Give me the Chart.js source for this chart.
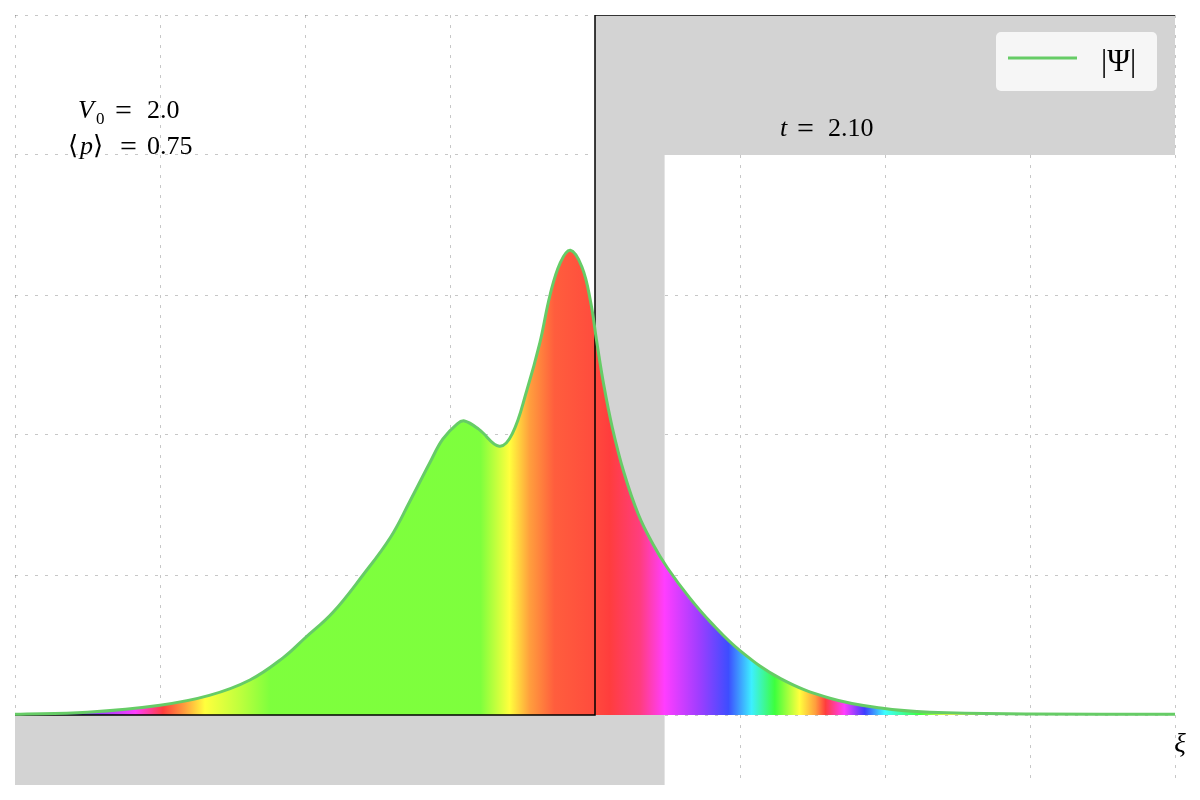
<!DOCTYPE html>
<html>
<head>
<meta charset="utf-8">
<script src="https://cdn.jsdelivr.net/npm/chart.js@4"></script>
<style>
  html, body { margin: 0; padding: 0; background: #fff; }
  #wrap { width: 1200px; height: 800px; }
</style>
</head>
<body>
<div id="wrap"><canvas id="psiChart" width="1200" height="800"></canvas></div>
<script>
// |Psi|
var psiX = [-4.0, -3.5, -3.0, -2.66, -2.38, -2.15, -2.0, -1.81, -1.6, -1.41, -1.28, -1.14, -1.05, -0.95, -0.90,
            -0.80, -0.66, -0.57, -0.47, -0.38, -0.31, -0.24, -0.17, -0.09, -0.03, 0.01,
            0.06, 0.12, 0.20, 0.30, 0.40, 0.50, 0.65, 0.80, 1.0, 1.28, 1.62, 1.97, 2.31, 3.0, 4.0];
var psiY = [0.005, 0.02, 0.07, 0.14, 0.25, 0.41, 0.55, 0.73, 1.0, 1.27, 1.52, 1.80, 1.97, 2.08, 2.10,
            2.04, 1.92, 2.01, 2.32, 2.66, 3.0, 3.23, 3.32, 3.2, 2.95, 2.68,
            2.36, 2.05, 1.73, 1.43, 1.22, 1.05, 0.84, 0.66, 0.46, 0.26, 0.12, 0.05, 0.02, 0.008, 0.005];

// phase (hue, unwrapped) along xi
var phaseX = [-4.0, -3.78, -3.41, -3.17, -2.98, -2.83, -2.69, -2.45, -2.24, -0.79, -0.69, -0.59, -0.45, -0.28, -0.03,
              0.10, 0.31, 0.48, 0.72, 0.92, 1.08, 1.24, 1.41, 1.52, 1.59, 1.72, 1.86, 2.0, 2.24, 2.45, 4.0];
var phaseHue = [220, 240, 270, 300, 360, 390, 420, 440, 460, 460, 440, 420, 390, 370, 365,
                360, 340, 300, 270, 235, 185, 120, 60, 30, 0, -60, -120, -180, -240, -300, -300];

// potential step and shaded barrier
var potentialX = [-4, 0, 0, 4];
var potentialY = [0, 0, 5, 5];
var barrierX = [-4, 0.48, 0.48, 4, 4, 0, 0, -4];
var barrierY = [-0.5, -0.5, 4, 4, 5, 5, 0, 0];

var xTicks = [-4, -3, -2, -1, 0, 1, 2, 3, 4];
var yTicks = [0, 1, 2, 3, 4, 5];

function pts(xs, ys) {
  return xs.map(function (x, i) { return {x: x, y: ys[i]}; });
}

function hueColor(h) {
  h = ((h % 360) + 360) % 360;
  return 'hsl(' + h + ',100%,62%)';
}

function phaseFill(context) {
  var chart = context.chart;
  if (!chart.chartArea) return 'rgba(0,0,0,0)';
  var xs = chart.scales.x;
  var a = xs.getPixelForValue(-4), b = xs.getPixelForValue(4);
  var g = chart.ctx.createLinearGradient(a, 0, b, 0);
  phaseX.forEach(function (x, i) {
    g.addColorStop((x + 4) / 8, hueColor(phaseHue[i]));
  });
  return g;
}

var serif = '"Liberation Serif", "DejaVu Serif", serif';

var textPlugin = {
  id: 'texts',
  afterDraw: function (chart) {
    var c = chart.ctx;
    c.save();
    c.fillStyle = '#000';
    c.textBaseline = 'alphabetic';
    c.textAlign = 'left';

    // V0 line
    c.font = 'italic 26px ' + serif;
    c.fillText('V', 78, 118);
    c.font = '17px ' + serif;
    c.fillText('0', 96, 124);
    c.font = '30px ' + serif;
    c.fillText('=', 115, 120);
    c.font = '26px ' + serif;
    c.fillText('2.0', 147, 118);

    // <p> line
    c.font = '26px ' + serif;
    c.fillText('\u27E8', 68, 154);
    c.font = 'italic 26px ' + serif;
    c.fillText('p', 80, 154);
    c.font = '26px ' + serif;
    c.fillText('\u27E9', 93, 154);
    c.font = '30px ' + serif;
    c.fillText('=', 120, 156);
    c.font = '26px ' + serif;
    c.fillText('0.75', 147, 154);

    // time
    c.font = 'italic 26px ' + serif;
    c.fillText('t', 780, 136);
    c.font = '30px ' + serif;
    c.fillText('=', 797, 138);
    c.font = '26px ' + serif;
    c.fillText('2.10', 828, 136);

    // axis label
    c.font = 'italic 27px ' + serif;
    c.textAlign = 'center';
    c.fillText('\u03BE', 1180, 752);

    // legend
    var lx = 996, ly = 32, lw = 161, lh = 59;
    c.fillStyle = 'rgba(255,255,255,0.8)';
    c.beginPath();
    c.roundRect(lx, ly, lw, lh, 5);
    c.fill();
    c.strokeStyle = '#66cc66';
    c.lineWidth = 3;
    c.beginPath();
    c.moveTo(1008, 58);
    c.lineTo(1077, 58);
    c.stroke();
    c.fillStyle = '#000';
    c.font = '31px ' + serif;
    c.textAlign = 'left';
    c.fillText(chart.data.datasets[0].label, 1101, 71);
    c.restore();
  }
};

var gridOpts = { color: 'rgba(0,0,0,0.22)', lineWidth: 1, drawTicks: false };
var borderOpts = { display: false, dash: [3, 7] };

var ctx = document.getElementById('psiChart');
var psiChart = new Chart(ctx, {
  type: 'line',
  data: {
    datasets: [{
      label: '|\u03A8|',
      data: pts(psiX, psiY),
      borderColor: '#66cc66',
      borderWidth: 3,
      pointRadius: 0,
      tension: 0.4,
      fill: 'origin',
      backgroundColor: phaseFill,
      order: 1
    }, {
      label: 'V',
      data: pts(potentialX, potentialY),
      borderColor: '#000',
      borderWidth: 1.5,
      pointRadius: 0,
      tension: 0,
      fill: false,
      order: 2
    }, {
      label: 'barrier',
      data: pts(barrierX, barrierY),
      borderWidth: 0,
      borderColor: 'rgba(0,0,0,0)',
      backgroundColor: '#d3d3d3',
      pointRadius: 0,
      tension: 0,
      fill: 'shape',
      order: 3
    }]
  },
  options: {
    responsive: false,
    animation: false,
    layout: { padding: { left: 15, right: 25, top: 15, bottom: 15 } },
    plugins: {
      legend: { display: false },
      tooltip: { enabled: false },
      filler: { drawTime: 'beforeDatasetsDraw' }
    },
    scales: {
      x: {
        type: 'linear',
        min: -4, max: 4,
        afterBuildTicks: function (s) { s.ticks = xTicks.map(function (v) { return {value: v}; }); },
        ticks: { display: false },
        border: borderOpts,
        grid: gridOpts,
        z: 1
      },
      y: {
        type: 'linear',
        min: -0.5, max: 5,
        afterBuildTicks: function (s) { s.ticks = yTicks.map(function (v) { return {value: v}; }); },
        ticks: { display: false },
        border: borderOpts,
        grid: gridOpts,
        z: 1
      }
    }
  },
  plugins: [textPlugin]
});
</script>
</body>
</html>
